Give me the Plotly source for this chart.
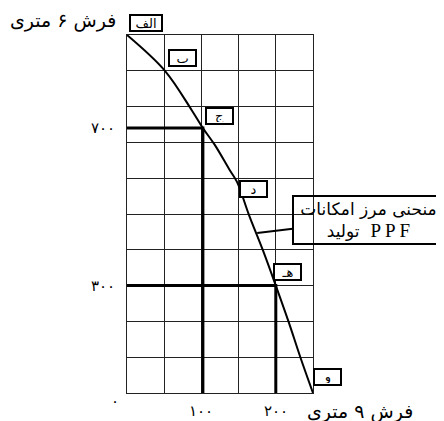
import plotly.graph_objects as go

# خوانده شده از تصویر (واحد محور افقی: فرش ۹ متری، عمودی: فرش ۶ متری)
curve_x = [0, 51, 87, 102, 118, 138, 148, 164, 183, 200, 217, 233, 250]
curve_y = [1000, 900, 790, 740, 693, 623, 589, 497, 397, 300, 200, 100, 0]

point_names = ["الف", "ب", "ج", "د", "هـ", "و"]
point_x = [0, 51, 102, 148, 200, 250]
point_y = [1000, 900, 740, 589, 300, 0]
label_shift = [(19, 12), (18, 13), (17, 12), (16, -7), (12, 14), (14, 16)]
label_width = [28, 23, 23, 23, 23, 23]

guide_points = [2, 4]  # ج و هـ
ytick_vals = [740, 300]
ytick_text = ["۷۰۰", "۳۰۰"]
xtick_vals = [100, 200]
xtick_text = ["۱۰۰", "۲۰۰"]

FONT = "DejaVu Sans"

fig = go.Figure()

for i in guide_points:
    fig.add_trace(go.Scatter(
        x=[0, point_x[i], point_x[i]], y=[point_y[i], point_y[i], 0],
        mode="lines", line=dict(color="black", width=3), hoverinfo="skip"))

fig.add_trace(go.Scatter(
    x=curve_x, y=curve_y, mode="lines",
    line=dict(color="black", width=2, shape="spline", smoothing=1),
    hoverinfo="skip"))

for name, x, y, (dx, dy), w in zip(point_names, point_x, point_y, label_shift, label_width):
    fig.add_annotation(
        x=x, y=y, text=name, showarrow=False, xshift=dx, yshift=dy,
        width=w, height=12,
        font=dict(family=FONT, size=13, color="black"),
        bordercolor="black", borderwidth=2, borderpad=1, bgcolor="white")

for v, t in zip(ytick_vals, ytick_text):
    fig.add_annotation(x=0, y=v, text=t, showarrow=False, xanchor="right",
                       xshift=-10, font=dict(family=FONT, size=15, color="black"))
for v, t in zip(xtick_vals, xtick_text):
    fig.add_annotation(x=v, y=0, text=t, showarrow=False, yanchor="middle",
                       yshift=-18, font=dict(family=FONT, size=15, color="black"))
fig.add_annotation(x=0, y=0, text="۰", showarrow=False, xshift=-12, yshift=-8,
                   font=dict(family=FONT, size=15, color="black"))

# عنوان محورها
fig.add_annotation(xref="paper", yref="paper", x=0, y=1, text="فرش ۶ متری",
                   showarrow=False, xanchor="right", yanchor="middle",
                   xshift=-9, yshift=15,
                   font=dict(family=FONT, size=19, color="black"))
fig.add_annotation(xref="paper", yref="paper", x=1, y=0, text="فرش ۹ متری",
                   showarrow=False, xanchor="left", yanchor="middle",
                   xshift=-8, yshift=-18,
                   font=dict(family=FONT, size=19, color="black"))

# برچسب منحنی
fig.add_annotation(
    x=175, y=447, ax=111, ay=-13,
    text="منحنی مرز امکانات<br>تولید  <span style='font-family:Liberation Serif;font-size:19px'>P P F</span>",
    showarrow=True, arrowhead=0, arrowwidth=2, arrowcolor="black",
    width=145, font=dict(family=FONT, size=17, color="black"),
    bordercolor="black", borderwidth=2, borderpad=2, bgcolor="rgba(0,0,0,0)")

axis_style = dict(showgrid=True, gridcolor="#222", gridwidth=1, zeroline=False,
                  showticklabels=False, ticks="", showline=True, linecolor="#222",
                  linewidth=1, mirror=True)
fig.update_xaxes(range=[0, 250], dtick=50, **axis_style)
fig.update_yaxes(range=[0, 1000], dtick=100, **axis_style)

# صفحه ۸ پیکسل حاشیه دارد
fig.update_layout(width=436, height=413, showlegend=False,
                  margin=dict(l=119, r=131, t=27, b=28),
                  plot_bgcolor="white", paper_bgcolor="white")

fig.write_html("out.html")
